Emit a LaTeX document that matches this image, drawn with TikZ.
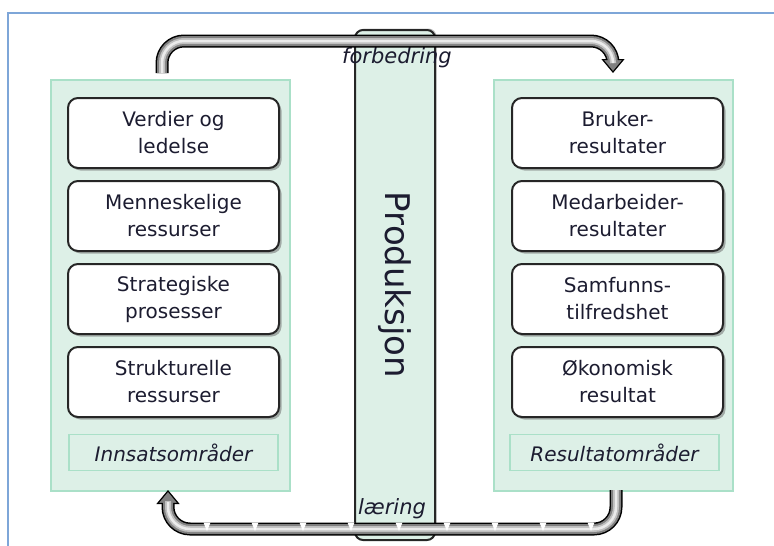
\documentclass[tikz,border=0pt]{standalone}
\usepackage{fontspec}
\setmainfont{DejaVu Sans}
\usetikzlibrary{positioning,shadows,arrows.meta}
\definecolor{mint}{RGB}{221,240,231}
\definecolor{mintkant}{RGB}{170,224,200}
\definecolor{ramme}{RGB}{126,166,216}
\definecolor{tekst}{RGB}{28,28,48}
\begin{document}
\begin{tikzpicture}[x=1pt,y=-1pt,
  every node/.style={text=tekst},
  felt/.style={draw=mintkant,fill=mint,line width=1.2pt,minimum width=239pt,minimum height=411pt},
  boks/.style={draw=black!85,fill=white,line width=2pt,rounded corners=10pt,
    minimum width=211pt,minimum height=70pt,align=center,font=\fontsize{20}{27}\selectfont,
    drop shadow={shadow xshift=2.5pt,shadow yshift=-2.5pt,fill=black!60}},
  etikett/.style={draw=mintkant,fill=mint,line width=1.2pt,minimum width=209pt,minimum height=36pt,
    font=\fontsize{20}{24}\selectfont\itshape},
  ror/.style={line width=13pt,draw=black,rounded corners=22pt,
    postaction={draw=black!50,line width=10pt,-,shorten >=10pt},
    postaction={draw=black!25,line width=6pt,-,shorten >=11pt},
    postaction={draw=black!8,line width=2.5pt,-,shorten >=12pt}},
  spiss/.style={-{Triangle[width=23pt,length=14pt,line width=1.2pt,fill=black!50]}}]
\useasboundingbox (0,0) rectangle (774,546);
\draw[ramme,line width=2pt] (7.5,546) |- (774,12.5);

% innsats og resultat
\node[felt] (inn) at (170.5,285.5) {};
\node[felt] (res) at (613.5,285.5) {};
\node[boks] (i1) at (173.5,133) {Verdier og\\ledelse};
\node[boks,below=11pt of i1] (i2) {Menneskelige\\ressurser};
\node[boks,below=11pt of i2] (i3) {Strategiske\\prosesser};
\node[boks,below=11pt of i3] (i4) {Strukturelle\\ressurser};
\node[etikett,below=16pt of i4] (innlbl) {Innsatsområder};
\node[boks] (r1) at (617.5,133) {Bruker-\\resultater};
\node[boks,below=11pt of r1] (r2) {Medarbeider-\\resultater};
\node[boks,below=11pt of r2] (r3) {Samfunns-\\tilfredshet};
\node[boks,below=11pt of r3] (r4) {Økonomisk\\resultat};
\node[etikett,below=16pt of r4,xshift=-3pt] (reslbl) {Resultatområder};

% produksjon
\node[draw=black!85,fill=mint,line width=2pt,rounded corners=8pt,rotate=-90,
  minimum width=510pt,minimum height=80pt,font=\fontsize{34}{40}\selectfont,
  drop shadow={shadow xshift=1.5pt,shadow yshift=1.5pt,fill=black!50}] (prod) at (395,285) {Produksjon};

% sløyfene
\node[font=\fontsize{21}{24}\selectfont\itshape] (forb) at (397,58) {forbedring};
\node[font=\fontsize{21}{24}\selectfont\itshape] (laer) at (392,509) {læring};
\coordinate (fstart) at (162,73);
\coordinate (fslutt) at (613,73);
\coordinate (lstart) at (616,490);
\coordinate (lslutt) at (168,490);
\draw[ror,spiss] (fstart) |- (400,41) -| (fslutt);
\draw[ror,spiss] (lstart) |- (400,529) -| (lslutt);
\foreach \x in {207,255,...,592}
  \fill[white] (\x-3.5,522.5) -- (\x+3.5,522.5) -- (\x,531) -- cycle;
\end{tikzpicture}
\end{document}
